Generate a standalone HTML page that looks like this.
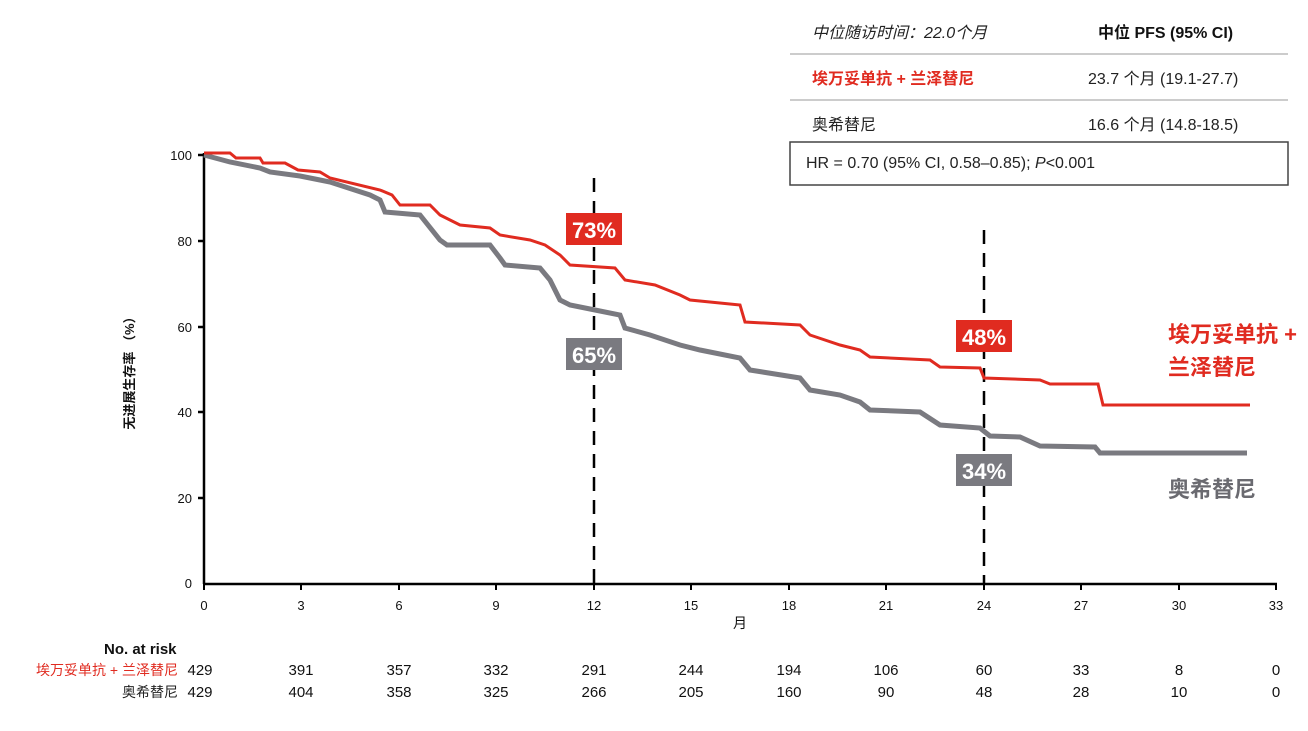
<!DOCTYPE html><html><head><meta charset="utf-8"><style>
body{margin:0;background:#fff;width:1308px;height:726px;overflow:hidden;font-family:"Liberation Sans","Noto Sans CJK SC",sans-serif}
</style></head><body>
<svg width="1308" height="726" xmlns="http://www.w3.org/2000/svg" font-family="Liberation Sans, Noto Sans CJK SC, sans-serif">
<text x="812" y="38" font-size="16" font-style="italic" fill="#222">中位随访时间：22.0个月</text>
<text x="1098" y="38" font-size="16" font-weight="bold" fill="#111">中位 PFS (95% CI)</text>
<line x1="790" y1="54" x2="1288" y2="54" stroke="#999" stroke-width="1"/>
<text x="812" y="84" font-size="16" font-weight="bold" fill="#e02b20">埃万妥单抗 + 兰泽替尼</text>
<text x="1088" y="84" font-size="16" fill="#222">23.7 个月 (19.1-27.7)</text>
<line x1="790" y1="100" x2="1288" y2="100" stroke="#999" stroke-width="1"/>
<text x="812" y="130" font-size="16" fill="#222">奥希替尼</text>
<text x="1088" y="130" font-size="16" fill="#222">16.6 个月 (14.8-18.5)</text>
<rect x="790" y="142" width="498" height="43" fill="none" stroke="#444" stroke-width="1.5"/>
<text x="806" y="168" font-size="16" fill="#222">HR = 0.70 (95% CI, 0.58–0.85); <tspan font-style="italic">P</tspan>&lt;0.001</text>
<line x1="204" y1="153" x2="204" y2="584" stroke="#000" stroke-width="2.5"/>
<line x1="203" y1="584" x2="1277" y2="584" stroke="#000" stroke-width="2.5"/>
<g stroke="#000" stroke-width="2.5">
<line x1="198" y1="155" x2="204" y2="155"/><line x1="198" y1="241" x2="204" y2="241"/><line x1="198" y1="327" x2="204" y2="327"/><line x1="198" y1="412" x2="204" y2="412"/><line x1="198" y1="498" x2="204" y2="498"/>
</g>
<g font-size="13" fill="#111" text-anchor="end">
<text x="192" y="160">100</text><text x="192" y="246">80</text><text x="192" y="332">60</text><text x="192" y="417">40</text><text x="192" y="503">20</text><text x="192" y="588">0</text>
</g>
<g stroke="#000" stroke-width="2"><line x1="204" y1="584" x2="204" y2="590"/><line x1="301" y1="584" x2="301" y2="590"/><line x1="399" y1="584" x2="399" y2="590"/><line x1="496" y1="584" x2="496" y2="590"/><line x1="594" y1="584" x2="594" y2="590"/><line x1="691" y1="584" x2="691" y2="590"/><line x1="789" y1="584" x2="789" y2="590"/><line x1="886" y1="584" x2="886" y2="590"/><line x1="984" y1="584" x2="984" y2="590"/><line x1="1081" y1="584" x2="1081" y2="590"/><line x1="1179" y1="584" x2="1179" y2="590"/><line x1="1276" y1="584" x2="1276" y2="590"/></g>
<g font-size="13" fill="#111" text-anchor="middle">
<text x="204" y="610">0</text><text x="301" y="610">3</text><text x="399" y="610">6</text><text x="496" y="610">9</text><text x="594" y="610">12</text><text x="691" y="610">15</text><text x="789" y="610">18</text><text x="886" y="610">21</text><text x="984" y="610">24</text><text x="1081" y="610">27</text><text x="1179" y="610">30</text><text x="1276" y="610">33</text>
<text x="740" y="628" font-size="14">月</text>
</g>
<text transform="translate(134,370) rotate(-90)" font-size="13" font-weight="bold" fill="#111" text-anchor="middle">无进展生存率 （%）</text>
<line x1="594" y1="178" x2="594" y2="584" stroke="#000" stroke-width="2.5" stroke-dasharray="14,9"/>
<line x1="984" y1="230" x2="984" y2="584" stroke="#000" stroke-width="2.5" stroke-dasharray="14,9"/>
<polyline fill="none" stroke="#7a7a80" stroke-width="5" points="204,155 230,162 260,168 270,172 300,176 320,180 330,182 370,195 380,200 385,212 420,215 440,240 447,245 490,245 500,258 505,265 540,268 550,280 560,300 570,305 595,310 620,315 625,328 650,335 680,345 700,350 740,358 750,370 800,378 810,390 840,395 860,402 870,410 920,412 940,425 980,428 990,436 1020,437 1040,446 1095,447 1100,453 1247,453"/>
<polyline fill="none" stroke="#e02b20" stroke-width="3" points="204,153 230,153 236,158 260,158 263,163 285,163 298,170 320,172 330,178 380,190 392,195 400,205 430,205 440,215 460,225 490,228 500,235 530,240 545,245 560,255 570,265 615,268 625,280 655,285 680,295 690,300 740,305 745,322 800,325 810,335 840,345 860,350 870,357 930,360 940,367 980,368 984,378 1040,380 1050,384 1098,384 1103,405 1250,405"/>
<rect x="566" y="213" width="56" height="32" fill="#e02b20"/><text x="594" y="238" font-size="22" font-weight="bold" fill="#fff" text-anchor="middle">73%</text>
<rect x="566" y="338" width="56" height="32" fill="#7a7a80"/><text x="594" y="363" font-size="22" font-weight="bold" fill="#fff" text-anchor="middle">65%</text>
<rect x="956" y="320" width="56" height="32" fill="#e02b20"/><text x="984" y="345" font-size="22" font-weight="bold" fill="#fff" text-anchor="middle">48%</text>
<rect x="956" y="454" width="56" height="32" fill="#7a7a80"/><text x="984" y="479" font-size="22" font-weight="bold" fill="#fff" text-anchor="middle">34%</text>
<text x="1168" y="342" font-size="22" font-weight="bold" fill="#e02b20">埃万妥单抗 +</text>
<text x="1168" y="375" font-size="22" font-weight="bold" fill="#e02b20">兰泽替尼</text>
<text x="1168" y="497" font-size="22" font-weight="bold" fill="#6a6a70">奥希替尼</text>
<text x="104" y="654" font-size="15" font-weight="bold" fill="#111">No. at risk</text>
<text x="178" y="675" font-size="14" fill="#e02b20" text-anchor="end">埃万妥单抗 + 兰泽替尼</text>
<text x="178" y="697" font-size="14" fill="#222" text-anchor="end">奥希替尼</text>
<g font-size="15" fill="#111" text-anchor="middle">
<text x="200" y="675">429</text><text x="301" y="675">391</text><text x="399" y="675">357</text><text x="496" y="675">332</text><text x="594" y="675">291</text><text x="691" y="675">244</text><text x="789" y="675">194</text><text x="886" y="675">106</text><text x="984" y="675">60</text><text x="1081" y="675">33</text><text x="1179" y="675">8</text><text x="1276" y="675">0</text>
<text x="200" y="697">429</text><text x="301" y="697">404</text><text x="399" y="697">358</text><text x="496" y="697">325</text><text x="594" y="697">266</text><text x="691" y="697">205</text><text x="789" y="697">160</text><text x="886" y="697">90</text><text x="984" y="697">48</text><text x="1081" y="697">28</text><text x="1179" y="697">10</text><text x="1276" y="697">0</text>
</g>
</svg></body></html>
